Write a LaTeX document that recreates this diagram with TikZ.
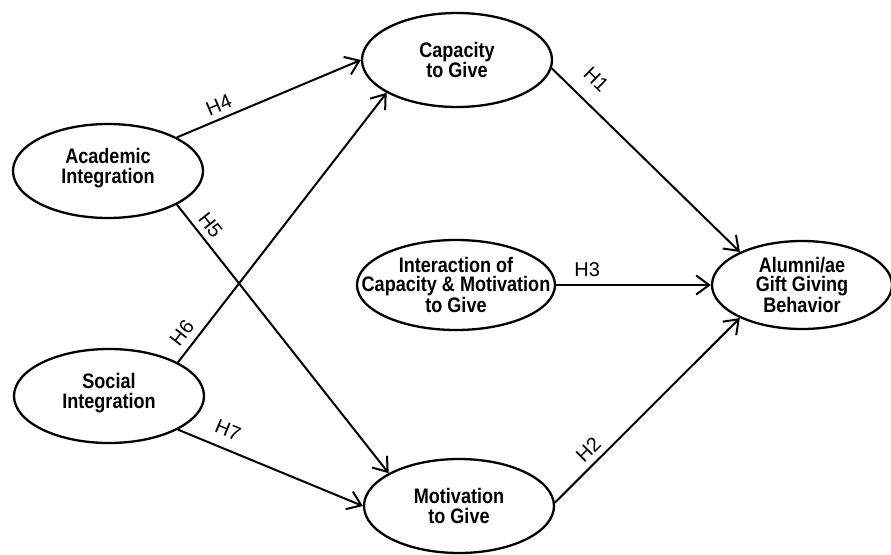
\documentclass[tikz,border=0pt]{standalone}
\usepackage{fontspec}
\setmainfont{Liberation Sans}
\newfontfamily\condfont{Liberation Sans}[FakeStretch=0.86]
\usetikzlibrary{shapes.geometric,arrows.meta}
\begin{document}
\begin{tikzpicture}[x=1pt,y=-1pt,
  oval/.style={ellipse, draw, line width=2.3pt, inner sep=0pt, minimum width=190pt, minimum height=94pt},
  txt/.style={align=center, font=\condfont\bfseries\fontsize{21}{20}\selectfont, inner sep=0pt},
  txtt/.style={txt, font=\condfont\bfseries\fontsize{21}{18.5}\selectfont},
  hyp/.style={-{Straight Barb[length=13pt,width=19pt,line width=2pt]}, line width=2pt},
  hl/.style={font=\fontsize{20}{20}\selectfont, inner sep=0pt, sloped}]
\useasboundingbox (0,0) rectangle (891,554);
\node[oval] (cap) at (457,60) {};
\node[oval] (mot) at (459,506) {};
\node[oval] (acad) at (108,171) {};
\node[oval] (soc) at (109,396) {};
\node[oval, minimum width=198pt, minimum height=90pt] (inter) at (456,285) {};
\node[oval, minimum width=180pt, minimum height=88pt] (alum) at (802,285) {};
\node[txt] (capt) at (cap) {Capacity\\to Give};
\node[txt] (mott) at (mot) {Motivation\\to Give};
\node[txt] (acadt) at ([yshift=3pt]acad.center) {Academic\\Integration};
\node[txt] (soct) at ([yshift=3pt]soc.center) {Social\\Integration};
\node[txtt] (intert) at (inter) {Interaction of\\Capacity \& Motivation\\to Give};
\node[txtt] (alumt) at (alum) {Alumni/ae\\Gift Giving\\Behavior};
\draw[hyp] (acad.26) -- (cap.180) node[hl, pos=0.257, above=5.8pt] (h4) {H4};
\draw[hyp] (acad.-26) -- (mot.155) node[hl, pos=0.108, above=5.7pt] (h5) {H5};
\draw[hyp] (soc.26) -- (cap.205) node[hl, pos=0.076, above=7pt] (h6) {H6};
\draw[hyp] (soc.-26) -- (mot.180) node[hl, pos=0.233, above=10.5pt] (h7) {H7};
\draw[hyp] (cap.-5) -- (alum.152) node[hl, pos=0.15, above=15.6pt] (h1) {H1};
\draw[hyp] (inter.0) -- (alum.180) node[hl, pos=0.2, above=7.8pt] (h3) {H3};
\draw[hyp] (mot.2) -- (alum.208) node[hl, pos=0.233, above=5.8pt] (h2) {H2};
\end{tikzpicture}
\end{document}
